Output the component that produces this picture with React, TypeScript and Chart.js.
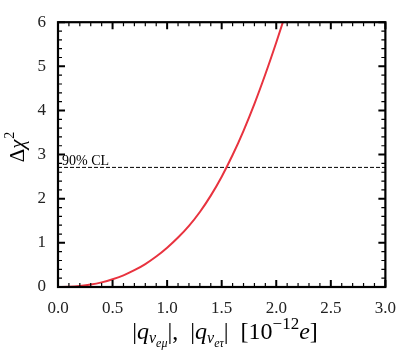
import React, { useEffect, useRef } from "react";
import { Chart, registerables } from "chart.js";

Chart.register(...registerables);

const qValues = [0, 0.1, 0.2, 0.3, 0.4, 0.5, 0.6, 0.7, 0.8, 0.9, 1.0, 1.1, 1.2, 1.3, 1.4, 1.5, 1.6, 1.7, 1.8, 1.9, 2.0, 2.1];
const deltaChi2 = [0, 0.006, 0.024, 0.055, 0.105, 0.175, 0.265, 0.38, 0.52, 0.69, 0.89, 1.12, 1.385, 1.7, 2.07, 2.5, 2.99, 3.54, 4.15, 4.82, 5.54, 6.3];
const clLevel = 2.71;
const clLabel = "90% CL";
const xTicks = [0, 0.5, 1.0, 1.5, 2.0, 2.5, 3.0];
const yTicks = [0, 1, 2, 3, 4, 5, 6];

const SERIF = "'Liberation Serif', 'DejaVu Serif', serif";

const framePlugin = {
  id: "framePlugin",
  afterDatasetsDraw(chart: any) {
    const { ctx, chartArea: a, scales } = chart;
    const xs = scales.x;
    const ys = scales.y;
    ctx.save();
    ctx.strokeStyle = "#000";
    for (let i = 0; i <= 30; i++) {
      const v = i / 10;
      const px = xs.getPixelForValue(v);
      const len = i % 5 === 0 ? 7 : 4;
      ctx.lineWidth = i % 5 === 0 ? 2 : 1.2;
      ctx.beginPath();
      ctx.moveTo(px, a.bottom);
      ctx.lineTo(px, a.bottom - len);
      ctx.moveTo(px, a.top);
      ctx.lineTo(px, a.top + len);
      ctx.stroke();
    }
    for (let i = 0; i <= 30; i++) {
      const v = i / 5;
      const py = ys.getPixelForValue(v);
      const len = i % 5 === 0 ? 7 : 4;
      ctx.lineWidth = i % 5 === 0 ? 2 : 1.2;
      ctx.beginPath();
      ctx.moveTo(a.left, py);
      ctx.lineTo(a.left + len, py);
      ctx.moveTo(a.right, py);
      ctx.lineTo(a.right - len, py);
      ctx.stroke();
    }
    ctx.lineWidth = 2.2;
    ctx.strokeRect(a.left, a.top, a.right - a.left, a.bottom - a.top);

    // CL label
    ctx.fillStyle = "#000";
    ctx.font = `14px ${SERIF}`;
    ctx.textAlign = "left";
    ctx.textBaseline = "alphabetic";
    ctx.fillText(clLabel, a.left + 4, ys.getPixelForValue(clLevel) - 2);

    // y title
    ctx.save();
    ctx.translate(24, 147);
    ctx.rotate(-Math.PI / 2);
    ctx.font = `21px ${SERIF}`;
    const w1 = ctx.measureText("Δ").width;
    ctx.font = `italic 21px ${SERIF}`;
    const w2 = ctx.measureText("χ").width;
    ctx.font = `14px ${SERIF}`;
    const w3 = ctx.measureText("2").width;
    let x0 = -(w1 + w2 + w3 + 1) / 2;
    ctx.font = `21px ${SERIF}`;
    ctx.fillText("Δ", x0, 0);
    x0 += w1;
    ctx.font = `italic 21px ${SERIF}`;
    ctx.fillText("χ", x0, 0);
    x0 += w2;
    ctx.font = `14px ${SERIF}`;
    ctx.fillText("2", x0 + 1, -10);
    ctx.restore();

    // x title
    const segs: [string, number, number, boolean][] = [
      ["|", 24, 0, false],
      ["q", 24, 0, true],
      ["ν", 16, 4, true],
      ["eμ", 12, 8, true],
      ["|,  |", 24, 0, false],
      ["q", 24, 0, true],
      ["ν", 16, 4, true],
      ["eτ", 12, 8, true],
      ["|  [10", 24, 0, false],
      ["−12", 17, -10, false],
      ["e", 24, 0, true],
      ["]", 24, 0, false],
    ];
    let total = 0;
    const widths: number[] = [];
    for (const [t, s, , it] of segs) {
      ctx.font = `${it ? "italic " : ""}${s}px ${SERIF}`;
      const w = ctx.measureText(t).width;
      widths.push(w);
      total += w;
    }
    let xx = 225 - total / 2;
    const base = 339;
    segs.forEach(([t, s, dy, it], i) => {
      ctx.font = `${it ? "italic " : ""}${s}px ${SERIF}`;
      ctx.fillText(t, xx, base + dy);
      xx += widths[i];
    });
    ctx.restore();
  },
};

export default function App() {
  const ref = useRef<HTMLCanvasElement | null>(null);
  useEffect(() => {
    document.body.style.margin = "0";
    const chart = new Chart(ref.current as HTMLCanvasElement, {
      type: "line",
      data: {
        datasets: [
          {
            data: qValues.map((q, i) => ({ x: q, y: deltaChi2[i] })),
            borderColor: "#e8333f",
            borderWidth: 2,
            pointRadius: 0,
            cubicInterpolationMode: "monotone",
          },
          {
            data: [
              { x: xTicks[0], y: clLevel },
              { x: xTicks[xTicks.length - 1], y: clLevel },
            ],
            borderColor: "#000",
            borderWidth: 1,
            borderDash: [4, 2],
            pointRadius: 0,
          },
        ],
      },
      options: {
        animation: false,
        responsive: false,
        layout: { padding: { top: 14, right: 18, left: 0, bottom: 0 } },
        plugins: { legend: { display: false }, tooltip: { enabled: false } },
        scales: {
          x: {
            type: "linear",
            min: 0,
            max: 3,
            afterFit: (s: any) => { s.height = 72; },
            afterBuildTicks: (s: any) => { s.ticks = xTicks.map((v) => ({ value: v })); },
            grid: { display: false, drawTicks: false },
            border: { display: false },
            ticks: {
              padding: 11,
              color: "#222",
              font: { family: SERIF, size: 17 },
              callback: (v: any) => Number(v).toFixed(1),
            },
          },
          y: {
            type: "linear",
            min: 0,
            max: 6,
            afterFit: (s: any) => { s.width = 58; },
            afterBuildTicks: (s: any) => { s.ticks = yTicks.map((v) => ({ value: v })); },
            grid: { display: false, drawTicks: false },
            border: { display: false },
            ticks: {
              padding: 12,
              color: "#222",
              font: { family: SERIF, size: 17 },
            },
          },
        },
      },
      plugins: [framePlugin],
    } as any);
    return () => chart.destroy();
  }, []);
  return <canvas ref={ref} width={407} height={359} style={{ display: "block" }} />;
}
